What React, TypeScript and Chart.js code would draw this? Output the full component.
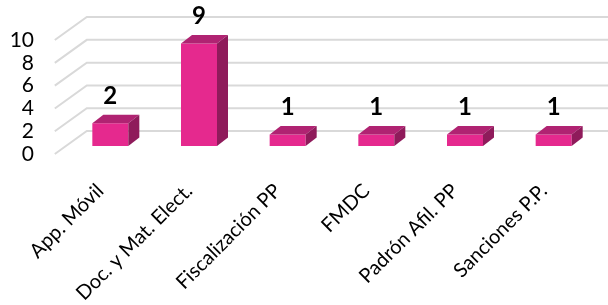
import React, { useEffect, useRef } from "react";
import { Chart, registerables } from "chart.js";

Chart.register(...registerables);

const categories = ["App. Móvil", "Doc. y Mat. Elect.", "Fiscalización PP", "FMDC", "Padrón Afil. PP", "Sanciones P.P."];
const values = [2, 9, 1, 1, 1, 1];
const yTicks = [0, 2, 4, 6, 8, 10];

const FONT = "Lato, 'Open Sans', sans-serif";
const FRONT = "#E5298E";
const TOP = "#B02372";
const SIDE = "#8F1B5B";
const GRID = "#D9D9D9";

// wall depth vector and bar depth vector
const WALL = { dx: 32, dy: -23, front: 0.35 };
const BAR = { dx: 11, dy: -8.5 };

const threeD = {
  id: "threeD",
  beforeDatasetsDraw(chart: any) {
    const { ctx, chartArea, scales } = chart;
    const y = scales.y;
    const left = chartArea.left;
    const fx = left - WALL.dx * WALL.front;
    const fyOff = -WALL.dy * WALL.front;
    const bx = left + WALL.dx * (1 - WALL.front);
    const byOff = WALL.dy * (1 - WALL.front);
    ctx.save();
    ctx.strokeStyle = GRID;
    ctx.lineWidth = 2;
    for (const v of yTicks) {
      const py = y.getPixelForValue(v);
      ctx.beginPath();
      ctx.moveTo(fx, py + fyOff);
      ctx.lineTo(bx, py + byOff);
      ctx.lineTo(chart.width, py + byOff);
      ctx.stroke();
    }
    ctx.restore();
  },
  afterDatasetsDraw(chart: any) {
    const { ctx } = chart;
    const meta = chart.getDatasetMeta(0);
    ctx.save();
    meta.data.forEach((bar: any, i: number) => {
      const { x, y, base, width } = bar.getProps(["x", "y", "base", "width"], true);
      const l = x - width / 2;
      const r = x + width / 2;
      ctx.fillStyle = TOP;
      ctx.beginPath();
      ctx.moveTo(l, y);
      ctx.lineTo(r, y);
      ctx.lineTo(r + BAR.dx, y + BAR.dy);
      ctx.lineTo(l + BAR.dx, y + BAR.dy);
      ctx.closePath();
      ctx.fill();
      ctx.fillStyle = SIDE;
      ctx.beginPath();
      ctx.moveTo(r, y);
      ctx.lineTo(r + BAR.dx, y + BAR.dy);
      ctx.lineTo(r + BAR.dx, base + BAR.dy);
      ctx.lineTo(r, base);
      ctx.closePath();
      ctx.fill();
      ctx.fillStyle = "#000";
      ctx.font = `bold 24px ${FONT}`;
      ctx.textAlign = "center";
      ctx.textBaseline = "middle";
      ctx.fillText(String(values[i]), x, y - 27);
    });
    ctx.restore();
  },
};

export default function App() {
  const ref = useRef<HTMLCanvasElement>(null);
  useEffect(() => {
    if (!ref.current) return;
    const chart = new Chart(ref.current, {
      type: "bar",
      data: {
        labels: categories,
        datasets: [
          {
            data: values,
            backgroundColor: FRONT,
            barPercentage: 0.406,
            categoryPercentage: 1,
          },
        ],
      },
      options: {
        animation: false,
        responsive: true,
        maintainAspectRatio: false,
        layout: { padding: { top: 32, right: 10, left: 0, bottom: 0 } },
        plugins: { legend: { display: false }, tooltip: { enabled: false } },
        scales: {
          x: {
            grid: { display: false, drawTicks: false },
            border: { display: false },
            ticks: {
              autoSkip: false,
              maxRotation: 45,
              minRotation: 45,
              color: "#000",
              padding: 33,
              labelOffset: -10,
              font: { family: FONT, size: 20 },
            },
            afterFit: (s: any) => {
              s.height = 159;
              s.paddingLeft = 0;
              s.paddingRight = 0;
              s.paddingTop = 0;
              s.paddingBottom = 0;
            },
          },
          y: {
            min: 0,
            max: 10,
            grid: { display: false, drawTicks: false },
            border: { display: false },
            ticks: {
              autoSkip: false,
              stepSize: 2,
              color: "#000",
              padding: 32,
              labelOffset: 8,
              font: { family: FONT, size: 21 },
            },
            afterFit: (s: any) => {
              s.width = 66;
              s.paddingTop = 0;
              s.paddingBottom = 0;
              s.paddingLeft = 0;
              s.paddingRight = 0;
            },
          },
        },
      },
      plugins: [threeD],
    });
    return () => chart.destroy();
  }, []);
  return (
    <div style={{ position: "fixed", left: 0, top: 0, width: 608, height: 305, background: "#fff" }}>
      <canvas ref={ref} />
    </div>
  );
}
